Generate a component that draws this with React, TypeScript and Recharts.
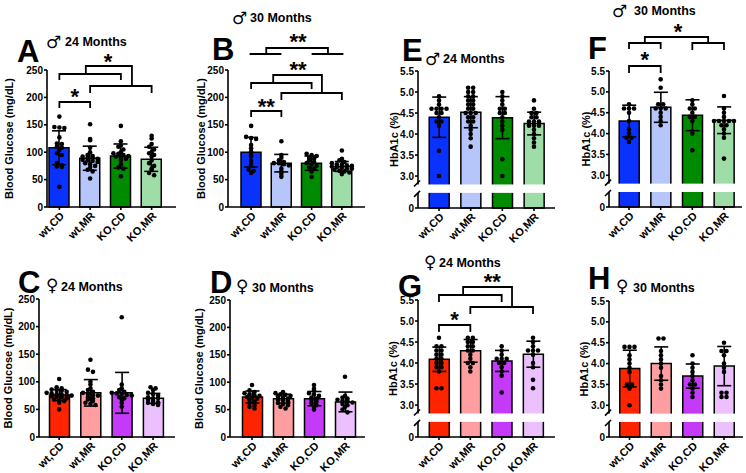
import React from 'react';
import { Bar, Cell, ComposedChart, ErrorBar, Scatter, XAxis, YAxis } from 'recharts';

const FONT = '"Liberation Sans", Arial, sans-serif';

const groups = ['wt,CD', 'wt,MR', 'KO,CD', 'KO,MR'];
const maleColors = ['#0a32ff', '#b6c6fb', '#008a00', '#9edda8'];
const femaleColors = ['#ff2400', '#ff9ea0', '#c43af8', '#ecc0fd'];

const glucoseTicks = [0, 50, 100, 150, 200, 250];
const hbaTicks = [0, 3.0, 3.5, 4.0, 4.5, 5.0, 5.5];

// A - male, 24 months, glucose
const aMean = [108, 89, 93, 87];
const aSd = [31, 22, 22, 22];
const aDots = [
  [165, 146, 145, 144, 127, 116, 115, 110, 108, 104, 98, 95, 80, 76, 74, 73, 37],
  [151, 124, 122, 108, 100, 95, 93, 92, 90, 89, 88, 86, 85, 84, 82, 80, 78, 75, 72, 68, 65, 52],
  [148, 120, 112, 110, 105, 100, 98, 97, 95, 93, 92, 90, 88, 85, 78, 72, 70, 56],
  [130, 125, 115, 110, 105, 100, 98, 95, 92, 85, 80, 75, 70, 68, 62, 58],
];

// B - male, 30 months, glucose
const bMean = [100, 80, 80, 74];
const bSd = [27, 16, 13, 9];
const bDots = [
  [148, 128, 126, 124, 113, 107, 101, 95, 92, 84, 77, 68, 66, 62],
  [120, 95, 90, 85, 82, 80, 80, 78, 76, 70, 65, 60, 55],
  [97, 95, 93, 90, 88, 85, 82, 80, 78, 75, 72, 70, 65, 55],
  [103, 88, 85, 82, 80, 78, 77, 76, 75, 74, 73, 72, 70, 70, 68, 66, 65, 63, 60],
];

// C - female, 24 months, glucose
const cMean = [76, 80, 80, 70];
const cSd = [10, 24, 37, 9];
const cDots = [
  [105, 90, 88, 86, 85, 84, 82, 80, 79, 78, 77, 76, 75, 74, 73, 72, 70, 68, 66, 65, 62, 50],
  [140, 122, 118, 100, 95, 88, 85, 82, 80, 78, 76, 75, 72, 70, 68, 65, 62, 60, 58],
  [217, 95, 88, 85, 82, 80, 79, 78, 76, 75, 72, 70, 68, 62, 55],
  [90, 88, 85, 80, 78, 75, 72, 70, 70, 68, 65, 63, 62, 60, 58],
];

// D - female, 30 months, glucose
const dMean = [73, 70, 70, 64];
const dSd = [11, 8, 13, 18];
const dDots = [
  [95, 85, 82, 80, 78, 76, 75, 73, 72, 70, 68, 65, 62, 58, 55, 52],
  [82, 80, 78, 77, 75, 74, 72, 70, 68, 67, 65, 62, 60, 58, 55, 52],
  [95, 88, 85, 80, 78, 75, 72, 70, 68, 65, 62, 58, 55, 50],
  [110, 75, 72, 70, 68, 66, 65, 63, 60, 58, 55, 50, 45],
];

// E - male, 24 months, HbA1c
const eMean = [4.4, 4.52, 4.39, 4.25];
const eSd = [0.48, 0.37, 0.5, 0.27];
const eDots = [
  [4.9, 4.8, 4.7, 4.6, 4.6, 4.6, 4.6, 4.5, 4.5, 4.4, 4.3, 4.3, 4.2, 3.6, 3.0],
  [5.1, 5.1, 5.0, 5.0, 4.9, 4.9, 4.8, 4.8, 4.7, 4.7, 4.6, 4.6, 4.5, 4.5, 4.5, 4.4, 4.4, 4.3, 4.3, 4.2, 4.1, 4.0, 3.9, 3.7],
  [5.0, 4.9, 4.8, 4.7, 4.6, 4.6, 4.5, 4.5, 4.4, 4.3, 4.2, 4.1, 3.4, 3.0],
  [4.8, 4.6, 4.5, 4.5, 4.4, 4.4, 4.3, 4.3, 4.3, 4.2, 4.2, 4.2, 4.1, 4.0, 3.9, 3.8, 3.7],
];

// F - male, 30 months, HbA1c
const fMean = [4.3, 4.63, 4.44, 4.32];
const fSd = [0.38, 0.36, 0.37, 0.32];
const fDots = [
  [4.7, 4.6, 4.6, 4.6, 4.5, 4.3, 4.1, 4.0, 3.9, 3.9, 3.8],
  [5.3, 5.1, 4.7, 4.7, 4.6, 4.6, 4.6, 4.5, 4.4, 4.3, 4.2],
  [4.8, 4.7, 4.6, 4.6, 4.5, 4.4, 4.4, 4.3, 4.0, 3.6],
  [4.9, 4.6, 4.5, 4.4, 4.3, 4.3, 4.3, 4.3, 4.3, 4.2, 4.2, 4.1, 4.0, 3.9, 3.4],
];

// G - female, 24 months, HbA1c
const gMean = [4.09, 4.29, 4.05, 4.21];
const gSd = [0.29, 0.27, 0.25, 0.31];
const gDots = [
  [4.6, 4.4, 4.4, 4.3, 4.3, 4.2, 4.2, 4.1, 4.1, 4.0, 4.0, 3.9, 3.9, 3.8, 3.4, 3.4],
  [4.6, 4.6, 4.5, 4.5, 4.4, 4.4, 4.3, 4.3, 4.2, 4.1, 4.0, 4.0, 3.9, 3.8],
  [4.4, 4.3, 4.2, 4.1, 4.1, 4.1, 4.0, 4.0, 3.9, 3.8, 3.7, 3.3],
  [4.6, 4.5, 4.4, 4.3, 4.3, 4.3, 4.2, 4.0, 3.9, 3.6, 3.4],
];

// H - female, 30 months, HbA1c
const hMean = [3.88, 4.0, 3.7, 3.94];
const hSd = [0.44, 0.4, 0.29, 0.47];
const hDots = [
  [4.4, 4.4, 4.4, 4.2, 4.1, 4.0, 3.9, 3.8, 3.5, 3.5, 3.4, 3.0],
  [4.6, 4.6, 4.3, 4.2, 4.1, 4.0, 3.9, 3.7, 3.6, 3.5, 3.4],
  [4.2, 4.0, 3.9, 3.8, 3.7, 3.6, 3.5, 3.5, 3.4, 3.3, 3.2],
  [4.5, 4.3, 4.3, 4.2, 4.0, 3.9, 3.8, 3.3, 3.3, 3.2, 3.2],
];

// broken HbA1c axis: 0 is drawn just below the 3.0 tick
const ZERO = 2.24;
const toDisp = (v: number) => (v >= 3 ? v : ZERO + (v * (3 - ZERO)) / 3);

const YW = 47;
const MT = 6;
const MR = 4;
const XH = 44;

type Geo = { left: number; right: number; top: number; bottom: number; padL: number; padR: number; labelX: number };

// spread dots of similar value side by side
function spread(vals: number[], bin: number) {
  const keys = vals.map((v) => Math.round(v / bin));
  const counts: Record<number, number> = {};
  keys.forEach((k) => (counts[k] = (counts[k] || 0) + 1));
  const seen: Record<number, number> = {};
  return keys.map((k) => {
    seen[k] = (seen[k] ?? -1) + 1;
    return (seen[k] - (counts[k] - 1) / 2) * 5;
  });
}

function Panel({ geo, glucose, mean, sd, dots, colors }: {
  geo: Geo; glucose: boolean; mean: number[]; sd: number[]; dots: number[][]; colors: string[];
}) {
  const plotW = geo.right - geo.left;
  const plotH = geo.bottom - geo.top;
  const f = glucose ? (v: number) => v : toDisp;
  const table = groups.map((g, i) => ({ g, mean: f(mean[i]), sd: sd[i] }));
  const pts = groups.flatMap((g, i) => {
    const offs = spread(dots[i], glucose ? 6 : 0.1);
    return dots[i].map((v, j) => ({ g, v: f(v), dx: offs[j] }));
  });
  const tickStyle = { fontSize: 10, fontWeight: 700, fill: '#000', fontFamily: FONT };
  const line = { stroke: '#000', strokeWidth: 1.6 };
  return (
    <div style={{ position: 'absolute', left: geo.left - YW, top: geo.top - MT }}>
      <ComposedChart
        width={YW + plotW + MR}
        height={MT + plotH + XH}
        data={table}
        margin={{ top: MT, right: MR, bottom: 0, left: 0 }}
      >
        <XAxis
          dataKey="g"
          allowDuplicatedCategory={false}
          interval={0}
          height={XH}
          padding={{ left: geo.padL, right: geo.padR }}
          axisLine={line}
          tickLine={line}
          tickSize={3}
          tickMargin={1}
          tick={{ ...tickStyle, fontSize: 11, angle: -45, textAnchor: 'end' }}
        />
        <YAxis
          type="number"
          width={YW}
          domain={glucose ? [0, 250] : [ZERO, 5.5]}
          ticks={glucose ? glucoseTicks : hbaTicks.map(toDisp)}
          interval={0}
          tickFormatter={(v: number) => (glucose ? String(v) : v < 2.9 ? '0' : v.toFixed(1))}
          axisLine={line}
          tickLine={line}
          tickSize={3}
          tickMargin={1}
          tick={tickStyle}
          label={{
            value: glucose ? 'Blood Glucose (mg/dL)' : 'HbA1c (%)',
            angle: -90,
            position: 'insideLeft',
            offset: geo.labelX - (geo.left - YW),
            fontSize: 11,
            fontWeight: 700,
            fill: '#000',
            fontFamily: FONT,
            style: { textAnchor: 'middle', fontSize: 11, fontWeight: 700, fill: '#000', fontFamily: FONT },
          }}
        />
        <Bar dataKey="mean" barSize={20} stroke="#000" strokeWidth={1.5} isAnimationActive={false}>
          {table.map((_, i) => (
            <Cell key={i} fill={colors[i]} />
          ))}
          <ErrorBar dataKey="sd" direction="y" width={7} stroke="#000" strokeWidth={1.6} />
        </Bar>
        <Scatter
          data={pts}
          dataKey="v"
          isAnimationActive={false}
          shape={(p: any) => <circle cx={p.cx + p.payload.dx} cy={p.cy} r={2.3} fill="#000" />}
        />
      </ComposedChart>
    </div>
  );
}

type Brk = { lines: number[][][]; stars: { u: number; y: number; t: string }[] };

const panels: {
  key: string; geo: Geo; glucose: boolean; mean: number[]; sd: number[]; dots: number[][]; male: boolean;
  letter: [number, number]; sym: [number, number]; sub: string; subPos: [number, number]; brk?: Brk;
}[] = [
  {
    key: 'A', geo: { left: 47, right: 176, top: 70, bottom: 207, padL: -3, padR: 9, labelX: 9 },
    glucose: true, mean: aMean, sd: aSd, dots: aDots, male: true,
    letter: [17, 62], sym: [46, 48], sub: '24 Months', subPos: [65, 46],
    brk: {
      lines: [
        [[0, 108], [0, 102], [1, 102], [1, 108]],
        [[0, 80], [0, 74], [2, 74], [2, 80]],
        [[1, 93], [1, 86], [3, 86], [3, 93]],
        [[0.86, 74], [0.86, 66], [2.36, 66], [2.36, 86]],
      ],
      stars: [{ u: 0.5, y: 92, t: '*' }, { u: 1.58, y: 57, t: '*' }],
    },
  },
  {
    key: 'B', geo: { left: 228, right: 365, top: 70, bottom: 207, padL: 8, padR: 8, labelX: 201 },
    glucose: true, mean: bMean, sd: bSd, dots: bDots, male: true,
    letter: [212, 60], sym: [232, 24], sub: '30 Months', subPos: [250, 22],
    brk: {
      lines: [
        [[0, 117], [0, 111], [1, 111], [1, 117]],
        [[0, 89], [0, 83], [2, 83], [2, 89]],
        [[1, 100], [1, 93], [3, 93], [3, 100]],
        [[0.73, 83], [0.73, 75], [2.34, 75], [2.34, 93]],
        [[-0.05, 54], [1, 54]],
        [[2, 54], [3.05, 54]],
        [[0.5, 54], [0.5, 48], [2.54, 48], [2.54, 54]],
      ],
      stars: [{ u: 0.5, y: 102, t: '**' }, { u: 1.55, y: 65, t: '**' }, { u: 1.55, y: 37, t: '**' }],
    },
  },
  {
    key: 'C', geo: { left: 39, right: 175, top: 299, bottom: 437, padL: 4.5, padR: 6.3, labelX: 8 },
    glucose: true, mean: cMean, sd: cSd, dots: cDots, male: false,
    letter: [18, 293], sym: [46, 291], sub: '24 Months', subPos: [61, 291],
  },
  {
    key: 'D', geo: { left: 230, right: 365, top: 300, bottom: 437, padL: 6.5, padR: 4.5, labelX: 199 },
    glucose: true, mean: dMean, sd: dSd, dots: dDots, male: false,
    letter: [210, 293], sym: [236, 292], sub: '30 Months', subPos: [252, 292],
  },
  {
    key: 'E', geo: { left: 418, right: 555, top: 71, bottom: 208, padL: 5.2, padR: 5.2, labelX: 394 },
    glucose: false, mean: eMean, sd: eSd, dots: eDots, male: true,
    letter: [402, 61], sym: [425, 65], sub: '24 Months', subPos: [443, 63],
  },
  {
    key: 'F', geo: { left: 609, right: 742, top: 71, bottom: 207, padL: 4.2, padR: 2.2, labelX: 586 },
    glucose: false, mean: fMean, sd: fSd, dots: fDots, male: true,
    letter: [588, 59], sym: [612, 17], sub: '30 Months', subPos: [634, 15],
    brk: {
      lines: [
        [[0, 73], [0, 66], [1, 66], [1, 73]],
        [[0, 49], [0, 43], [1, 43], [1, 49]],
        [[2, 50], [2, 43], [3, 43], [3, 50]],
        [[0.5, 43], [0.5, 37], [2.5, 37], [2.5, 43]],
      ],
      stars: [{ u: 0.5, y: 55, t: '*' }, { u: 1.55, y: 27, t: '*' }],
    },
  },
  {
    key: 'G', geo: { left: 418, right: 555, top: 300, bottom: 437, padL: 5.3, padR: 6.3, labelX: 393 },
    glucose: false, mean: gMean, sd: gSd, dots: gDots, male: false,
    letter: [398, 297], sym: [424, 268], sub: '24 Months', subPos: [439, 267],
    brk: {
      lines: [
        [[0, 332], [0, 325], [1, 325], [1, 332]],
        [[0, 302], [0, 295], [2, 295], [2, 302]],
        [[1, 314], [1, 307], [3, 307], [3, 314]],
        [[0.77, 295], [0.77, 287], [2.33, 287], [2.33, 307]],
      ],
      stars: [{ u: 0.5, y: 315, t: '*' }, { u: 1.7, y: 277, t: '**' }],
    },
  },
  {
    key: 'H', geo: { left: 609, right: 743, top: 301, bottom: 437, padL: 4.75, padR: 3.25, labelX: 584 },
    glucose: false, mean: hMean, sd: hSd, dots: hDots, male: false,
    letter: [588, 289], sym: [616, 292], sub: '30 Months', subPos: [633, 292],
  },
];

function cxOf(geo: Geo, u: number) {
  const band = (geo.right - geo.left - geo.padL - geo.padR) / 4;
  return geo.left + geo.padL + band * (u + 0.5);
}

function yOf(geo: Geo, d: number) {
  return geo.top + ((5.5 - d) / (5.5 - ZERO)) * (geo.bottom - geo.top);
}

function Overlay() {
  return (
    <svg width={746} height={473} style={{ position: 'absolute', left: 0, top: 0, pointerEvents: 'none' }}>
      {panels.map((p) => {
        const g = p.geo;
        const gapTop = yOf(g, 2.8);
        const gapBot = yOf(g, 2.6);
        return (
          <g key={p.key}>
            <text x={p.letter[0]} y={p.letter[1]} fontFamily={FONT} fontWeight={700} fontSize={31} fill="#000">
              {p.key}
            </text>
            <text x={p.sym[0]} y={p.sym[1]} fontFamily='"DejaVu Sans", sans-serif' fontSize={17} fill="#000">
              {p.male ? '\u2642' : '\u2640'}
            </text>
            <text x={p.subPos[0]} y={p.subPos[1]} fontFamily={FONT} fontWeight={700} fontSize={12.5} fill="#000">
              {p.sub}
            </text>
            {!p.glucose && (
              <g>
                <rect x={g.left - 2} y={gapTop} width={g.right - g.left + 2} height={gapBot - gapTop} fill="#fff" />
                <line x1={g.left - 4} y1={gapTop + 2} x2={g.left + 2} y2={gapTop - 4} stroke="#000" strokeWidth={1.6} />
                <line x1={g.left - 4} y1={gapBot + 4} x2={g.left + 2} y2={gapBot - 2} stroke="#000" strokeWidth={1.6} />
              </g>
            )}
            {p.brk &&
              p.brk.lines.map((pl, i) => (
                <polyline
                  key={i}
                  points={pl.map(([u, y]) => `${cxOf(g, u)},${y}`).join(' ')}
                  fill="none"
                  stroke="#000"
                  strokeWidth={1.8}
                />
              ))}
            {p.brk &&
              p.brk.stars.map((s, i) => (
                <text
                  key={i}
                  x={cxOf(g, s.u)}
                  y={s.y + 12}
                  textAnchor="middle"
                  fontFamily={FONT}
                  fontWeight={700}
                  fontSize={22}
                  fill="#000"
                >
                  {s.t}
                </text>
              ))}
          </g>
        );
      })}
    </svg>
  );
}

export default function App() {
  return (
    <div style={{ position: 'absolute', left: 0, top: 0, width: 746, height: 473, background: '#fff', fontFamily: FONT }}>
      {panels.map((p) => (
        <Panel
          key={p.key}
          geo={p.geo}
          glucose={p.glucose}
          mean={p.mean}
          sd={p.sd}
          dots={p.dots}
          colors={p.male ? maleColors : femaleColors}
        />
      ))}
      <Overlay />
    </div>
  );
}
